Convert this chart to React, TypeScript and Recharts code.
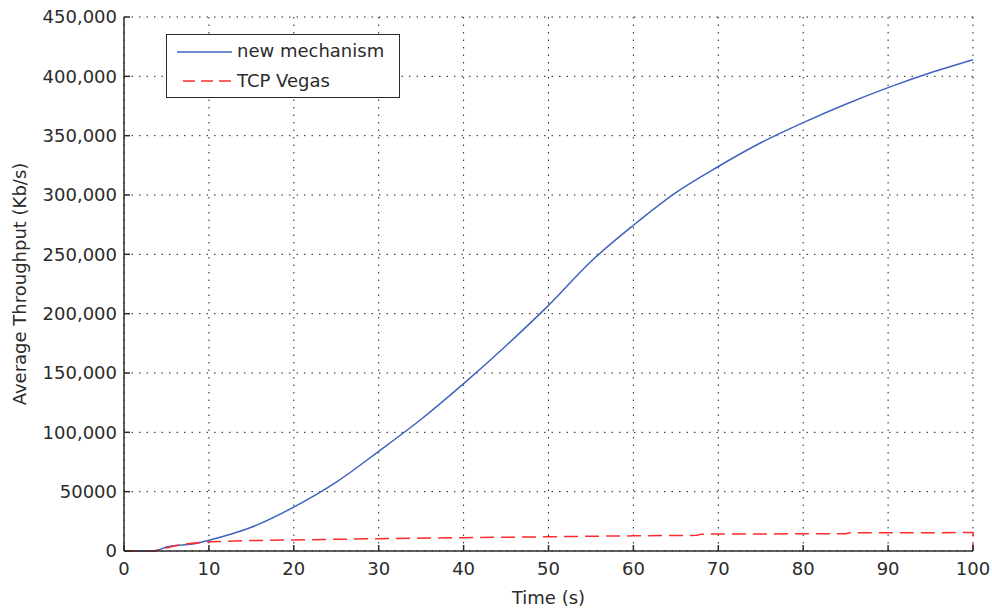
import React from "react";
import { LineChart, Line, XAxis, YAxis, CartesianGrid, Legend } from "recharts";

// time (s) and average throughput (Kb/s)
const mechTime = [0, 3.5, 5, 8.6, 10, 15, 20, 25, 30, 35, 40, 45, 50, 55, 60, 65, 70, 75, 80, 85, 90, 95, 100];
const mechThroughput = [
  0, 0, 3400, 6500, 9000, 20000, 37000, 58000, 84000, 111000, 141000, 173000, 207000, 244000,
  274500, 302000, 324000, 344000, 361000, 376500, 390500, 403000, 414000,
];

const vegasTime = [0, 3.5, 5, 6, 8, 10, 15, 20, 30, 40, 50, 60, 67.5, 68, 85, 85.5, 100, 100];
const vegasThroughput = [
  0, 0, 2500, 4500, 6500, 7800, 8800, 9300, 10400, 11200, 12000, 12800, 13200, 14200, 14600, 15400, 15500, 0,
];

const xTicks = [0, 10, 20, 30, 40, 50, 60, 70, 80, 90, 100];
const yTicks = [0, 50000, 100000, 150000, 200000, 250000, 300000, 350000, 400000, 450000];

const mechData = mechTime.map((t, i) => ({ t, v: mechThroughput[i] }));
const vegasData = vegasTime.map((t, i) => ({ t, v: vegasThroughput[i] }));

const FONT = "DejaVu Sans";
const INK = "#2b2b2b";
const BLUE = "#4262c0";
const RED = "#ff2a2a";

const fmtY = (v: number) => (v >= 100000 ? v.toLocaleString("en-US") : String(v));

function LegendBox() {
  return (
    <div
      style={{
        border: `1.5px solid ${INK}`,
        background: "#fff",
        width: 234,
        height: 64,
        boxSizing: "border-box",
        fontFamily: FONT,
        fontSize: 18,
        color: INK,
        position: "relative",
      }}
    >
      <svg width={60} height={62} style={{ position: "absolute", left: 8, top: 0 }}>
        <line x1={2} x2={57} y1={17} y2={17} stroke={BLUE} strokeWidth={1.5} />
        <line x1={8} x2={57} y1={46} y2={46} stroke={RED} strokeWidth={1.5} strokeDasharray="12 6" />
      </svg>
      <div style={{ position: "absolute", left: 70, top: 4, lineHeight: "24px" }}>new mechanism</div>
      <div style={{ position: "absolute", left: 70, top: 34, lineHeight: "24px" }}>TCP Vegas</div>
    </div>
  );
}

export default function App() {
  const tickStyle = { fill: INK, fontSize: 18, fontFamily: FONT };
  return (
    <div style={{ position: "absolute", left: 0, top: 0, background: "#fff" }}>
      <LineChart width={992} height={611} margin={{ top: 17, right: 19, bottom: 0, left: 0 }}>
        <CartesianGrid stroke="#222" strokeDasharray="1.5 6" strokeWidth={1} />
        <XAxis
          dataKey="t"
          type="number"
          domain={[0, 100]}
          ticks={xTicks}
          height={60}
          tickSize={-6}
          tickMargin={17}
          tick={tickStyle}
          stroke={INK}
          strokeWidth={1.5}
          label={{ value: "Time (s)", position: "insideBottom", offset: 7, fill: INK, fontSize: 18, fontFamily: FONT }}
        />
        <XAxis
          xAxisId="top"
          orientation="top"
          type="number"
          domain={[0, 100]}
          ticks={xTicks}
          height={0}
          tickSize={-6}
          tickFormatter={() => ""}
          stroke={INK}
          strokeWidth={1.5}
        />
        <YAxis
          type="number"
          domain={[0, 450000]}
          ticks={yTicks}
          width={124}
          tickSize={-6}
          tickMargin={13}
          tick={tickStyle}
          tickFormatter={fmtY}
          stroke={INK}
          strokeWidth={1.5}
          label={{
            value: "Average Throughput (Kb/s)",
            angle: -90,
            position: "insideLeft",
            offset: 20,
            fill: INK,
            fontSize: 18,
            fontFamily: FONT,
            style: { textAnchor: "middle" },
          }}
        />
        <YAxis
          yAxisId="right"
          orientation="right"
          type="number"
          domain={[0, 450000]}
          ticks={yTicks}
          width={0}
          tickSize={-6}
          tickFormatter={() => ""}
          stroke={INK}
          strokeWidth={1.5}
        />
        <Legend
          verticalAlign="middle"
          align="center"
          content={() => <LegendBox />}
          wrapperStyle={{ position: "absolute", left: 166, top: 34, width: 234, height: 64 }}
        />
        <Line
          data={mechData}
          dataKey="v"
          type="monotone"
          stroke={BLUE}
          strokeWidth={1.5}
          dot={false}
          isAnimationActive={false}
        />
        <Line
          data={vegasData}
          dataKey="v"
          type="linear"
          stroke={RED}
          strokeWidth={1.5}
          strokeDasharray="14 7"
          dot={false}
          isAnimationActive={false}
        />
      </LineChart>
    </div>
  );
}
